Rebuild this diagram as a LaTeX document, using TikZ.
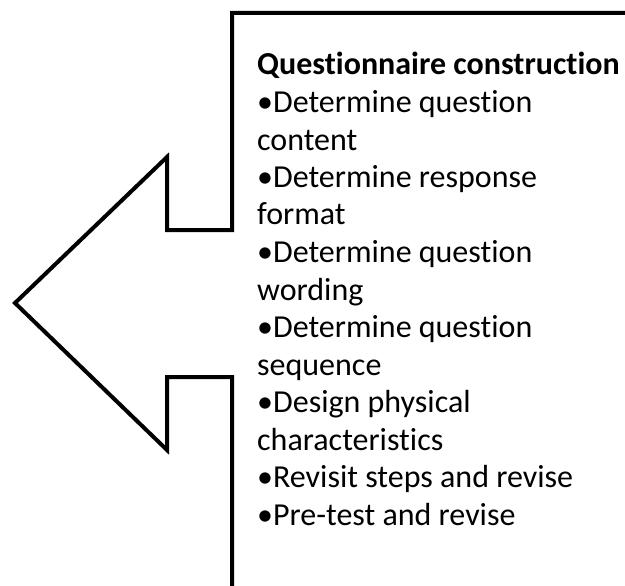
\documentclass[tikz,border=0pt]{standalone}
\usepackage{fontspec}
\setmainfont[Ligatures={NoCommon}]{Carlito}
\begin{document}
\begin{tikzpicture}[x=1pt,y=-1pt,
  outline/.style={draw=black,line width=4pt,line join=miter,fill=white},
  txt/.style={anchor=base west,inner sep=0pt,font=\fontsize{32}{37.5}\selectfont},
  hdr/.style={txt,font=\fontsize{32}{37.5}\selectfont\bfseries}]
\useasboundingbox (0,0) rectangle (625,586);
\clip (0,0) rectangle (625,586);
\draw[outline] (640,13) -- (232,13) -- (232,230) -- (167,230) -- (167,157)
  -- (15,303) -- (167,450) -- (167,377) -- (232,377) -- (232,600);
\node[hdr] (h) at (257,75) {Questionnaire construction};
\node[txt] (l1) at (257,113) {•Determine question};
\node[txt] (l2) at (257,150) {content};
\node[txt] (l3) at (257,187.5) {•Determine response};
\node[txt] (l4) at (257,225) {format};
\node[txt] (l5) at (257,262.5) {•Determine question};
\node[txt] (l6) at (257,300) {wording};
\node[txt] (l7) at (257,337.5) {•Determine question};
\node[txt] (l8) at (257,375) {sequence};
\node[txt] (l9) at (257,412) {•Design physical};
\node[txt] (l10) at (257,450) {characteristics};
\node[txt] (l11) at (257,487.5) {•Revisit steps and revise};
\node[txt] (l12) at (257,525) {•Pre-test and revise};
\end{tikzpicture}
\end{document}
